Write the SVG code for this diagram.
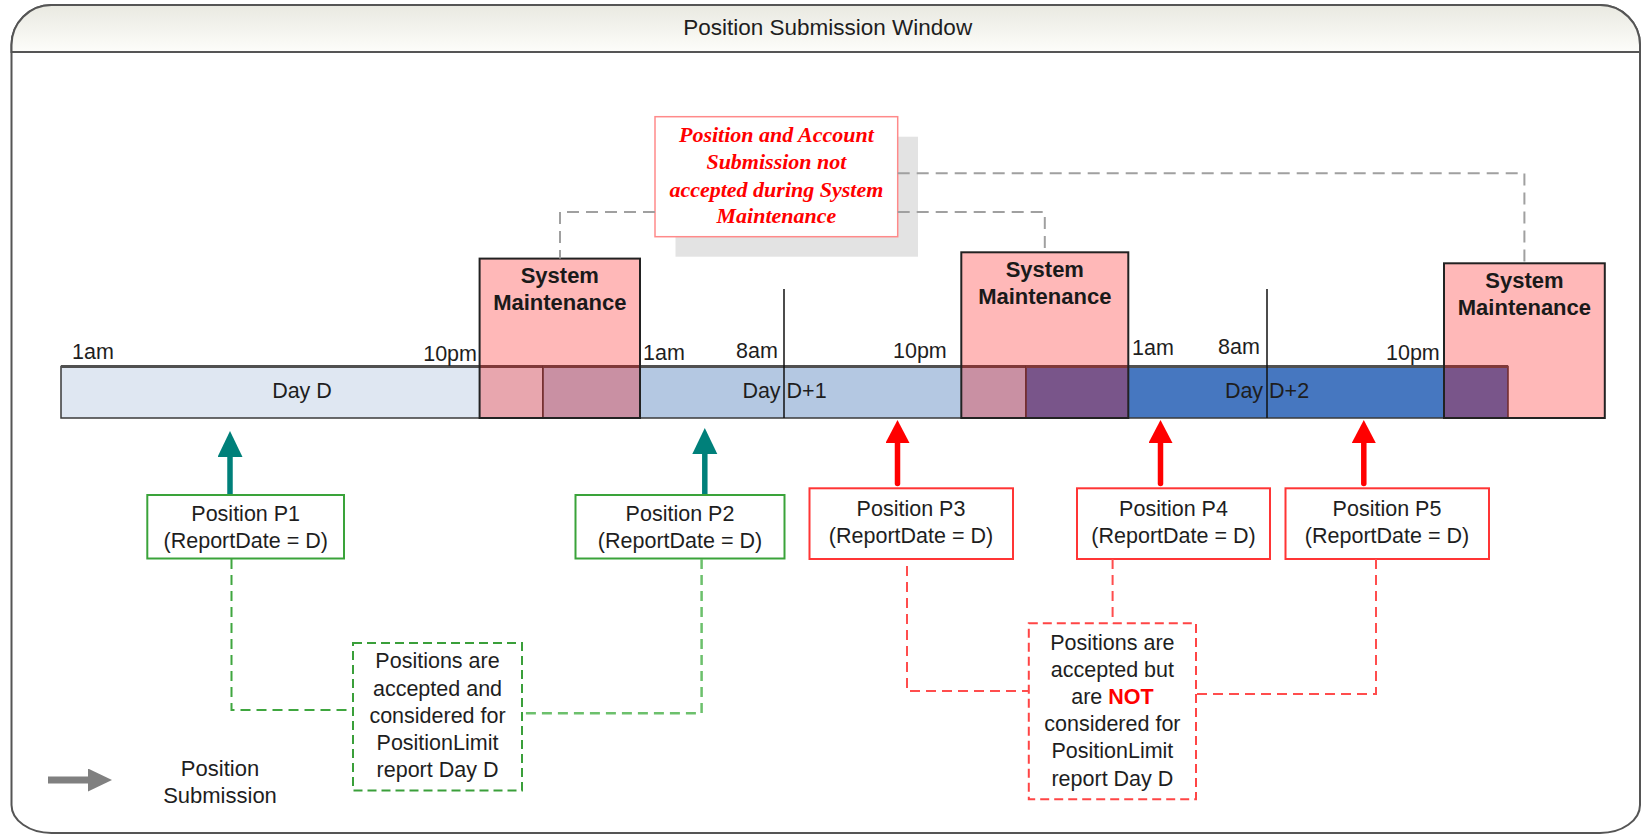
<svg xmlns="http://www.w3.org/2000/svg" width="1642" height="835" viewBox="0 0 1642 835">
<defs>
<style>
.t{font-family:"Liberation Sans",Arial,sans-serif;font-size:21.5px;fill:#1e1e1e}
.c{text-anchor:middle}
.e{text-anchor:end}
.smt{font-family:"Liberation Sans",Arial,sans-serif;font-size:22px;font-weight:bold;fill:#1a1a1a;text-anchor:middle}
.call{font-family:"Liberation Serif","Times New Roman",serif;font-size:22px;font-weight:bold;font-style:italic;fill:#ff0000;text-anchor:middle}
.bar{stroke:#3a3a3a;stroke-width:1.5}
.bartop{stroke:#505050;stroke-width:3}
.sm{fill:#ff0000;fill-opacity:0.28;stroke:#222;stroke-width:2}
.tick{stroke:#111;stroke-width:1.5}
.gbox{fill:#fff;stroke:#3aa33a;stroke-width:2}
.rbox{fill:#fff;stroke:#ff3535;stroke-width:2}
.gnote{fill:#fff;stroke:#3a9f3a;stroke-width:2;stroke-dasharray:9 5}
.rnote{fill:#fff;stroke:#ff4545;stroke-width:2;stroke-dasharray:9 5}
.gdash{fill:none;stroke:#3fa63f;stroke-width:2;stroke-dasharray:10 6}
.gdash2{fill:none;stroke:#6cc06c;stroke-width:2.5;stroke-dasharray:10 6}
.rdash{fill:none;stroke:#ff4d4d;stroke-width:2;stroke-dasharray:10 6}
.gray{fill:none;stroke:#a0a0a0;stroke-width:2;stroke-dasharray:12 7}
.teal{stroke:#00807a;stroke-width:5.5;fill:none}
.red{stroke:#ff0000;stroke-width:5.5;fill:none;stroke-linecap:round}
</style>
<linearGradient id="hdr" x1="0" y1="0" x2="0" y2="1">
<stop offset="0" stop-color="#e9e9e1"/>
<stop offset="1" stop-color="#fdfdfa"/>
</linearGradient>
<marker id="ahTeal" markerUnits="userSpaceOnUse" markerWidth="27" markerHeight="26" refX="0" refY="12.5" orient="auto">
<path d="M0,0 L26,12.5 L0,25 Z" fill="#00807a"/>
</marker>
<marker id="ahRed" markerUnits="userSpaceOnUse" markerWidth="24" markerHeight="25" refX="0" refY="12" orient="auto">
<path d="M0,0 L23,12 L0,24 Z" fill="#ff0000"/>
</marker>
<marker id="ahGray" markerUnits="userSpaceOnUse" markerWidth="25" markerHeight="25" refX="0" refY="11.5" orient="auto">
<path d="M0,0 L24,11.5 L0,23 Z" fill="#808080"/>
</marker>
</defs>

<g id="frame">
<path d="M11.5,45 A40,40 0 0 1 51.5,5 L1600,5 A40,40 0 0 1 1640,45 L1640,805 A40,28 0 0 1 1600,833 L51.5,833 A40,28 0 0 1 11.5,805 Z" fill="#fff" stroke="#555" stroke-width="2"/>
<path d="M11.5,52 L11.5,45 A40,40 0 0 1 51.5,5 L1600,5 A40,40 0 0 1 1640,45 L1640,52 Z" fill="url(#hdr)" stroke="#555" stroke-width="2"/>
<text class="t c" x="827.7" y="35" style="font-size:22.5px">Position Submission Window</text>
</g>

<g id="day-d">
<rect class="bar" x="61" y="366.5" width="482" height="51.5" fill="#dfe7f2"/>
<line class="bartop" x1="61" y1="366.5" x2="543" y2="366.5"/>
</g>
<g id="day-d1">
<rect class="bar" x="543" y="366.5" width="483" height="51.5" fill="#b4c8e2"/>
<line class="bartop" x1="543" y1="366.5" x2="1026" y2="366.5"/>
</g>
<g id="day-d2">
<rect class="bar" x="1026" y="366.5" width="482" height="51.5" fill="#4677c0"/>
<line class="bartop" x1="1026" y1="366.5" x2="1508" y2="366.5"/>
</g>

<g id="ticks">
<line class="tick" x1="784" y1="289" x2="784" y2="418"/>
<line class="tick" x1="1267" y1="289" x2="1267" y2="418"/>
</g>

<g id="day-labels">
<text class="t c" x="302" y="398">Day D</text>
<text class="t c" x="784.5" y="398">Day D+1</text>
<text class="t c" x="1267" y="398">Day D+2</text>
</g>

<g id="time-labels">
<text class="t" x="72" y="359">1am</text>
<text class="t e" x="477" y="361">10pm</text>
<text class="t" x="643" y="360">1am</text>
<text class="t" x="736" y="358">8am</text>
<text class="t" x="893" y="358">10pm</text>
<text class="t" x="1132" y="355">1am</text>
<text class="t" x="1218" y="354">8am</text>
<text class="t" x="1386" y="360">10pm</text>
</g>

<g id="sm1">
<rect class="sm" x="479.6" y="258.6" width="160.4" height="159.4"/>
<text class="smt" x="559.8" y="283.3">System</text>
<text class="smt" x="559.8" y="310">Maintenance</text>
</g>
<g id="sm2">
<rect class="sm" x="961.3" y="252.3" width="167" height="165.7"/>
<text class="smt" x="1044.8" y="277">System</text>
<text class="smt" x="1044.8" y="303.7">Maintenance</text>
</g>
<g id="sm3">
<rect class="sm" x="1444" y="263.3" width="160.8" height="154.7"/>
<text class="smt" x="1524.4" y="288">System</text>
<text class="smt" x="1524.4" y="314.7">Maintenance</text>
</g>

<g id="callout">
<rect x="675.5" y="136.7" width="242.5" height="120" fill="#e3e3e3"/>
<rect x="655" y="116.7" width="242.7" height="120" fill="#fff" stroke="#ff8a8a" stroke-width="1.5"/>
<text class="call" x="776.4" y="141.7">Position and Account</text>
<text class="call" x="776.4" y="169.3">Submission not</text>
<text class="call" x="776.4" y="197.3">accepted during System</text>
<text class="call" x="776.4" y="223.3">Maintenance</text>
</g>

<g id="p1">
<rect class="gbox" x="147.3" y="495" width="196.7" height="63.5"/>
<text class="t c" x="245.7" y="521">Position P1</text>
<text class="t c" x="245.7" y="548">(ReportDate = D)</text>
</g>
<g id="p2">
<rect class="gbox" x="575.5" y="495" width="209" height="63.5"/>
<text class="t c" x="680" y="521">Position P2</text>
<text class="t c" x="680" y="548">(ReportDate = D)</text>
</g>
<g id="p3">
<rect class="rbox" x="809.5" y="488.3" width="203.5" height="70.7"/>
<text class="t c" x="911" y="516">Position P3</text>
<text class="t c" x="911" y="543">(ReportDate = D)</text>
</g>
<g id="p4">
<rect class="rbox" x="1077" y="488.3" width="193" height="70.7"/>
<text class="t c" x="1173.5" y="516">Position P4</text>
<text class="t c" x="1173.5" y="543">(ReportDate = D)</text>
</g>
<g id="p5">
<rect class="rbox" x="1285.5" y="488.3" width="203.5" height="70.7"/>
<text class="t c" x="1387" y="516">Position P5</text>
<text class="t c" x="1387" y="543">(ReportDate = D)</text>
</g>

<g id="note-accepted">
<rect class="gnote" x="353" y="643" width="169" height="147.5"/>
<text class="t c" x="437.5" y="668">Positions are</text>
<text class="t c" x="437.5" y="695.5">accepted and</text>
<text class="t c" x="437.5" y="722.7">considered for</text>
<text class="t c" x="437.5" y="750">PositionLimit</text>
<text class="t c" x="437.5" y="777">report Day D</text>
</g>

<g id="note-not-considered">
<rect class="rnote" x="1028.8" y="623.3" width="167.2" height="176"/>
<text class="t c" x="1112.4" y="649.5">Positions are</text>
<text class="t c" x="1112.4" y="676.5">accepted but</text>
<text class="t c" x="1112.4" y="704">are <tspan style="font-weight:bold;fill:#ff0000">NOT</tspan></text>
<text class="t c" x="1112.4" y="731">considered for</text>
<text class="t c" x="1112.4" y="758">PositionLimit</text>
<text class="t c" x="1112.4" y="785.5">report Day D</text>
</g>

<g id="legend">
<line x1="48" y1="780" x2="88" y2="780" stroke="#808080" stroke-width="7" marker-end="url(#ahGray)"/>
<text class="t c" x="220" y="776" style="font-size:22px">Position</text>
<text class="t c" x="220" y="803" style="font-size:22px">Submission</text>
</g>

<g id="connectors">
<path class="gray" d="M655,212 H560 V258.6"/>
<path class="gray" d="M897.7,173.3 H1524.4 V263.3"/>
<path class="gray" d="M897.7,212 H1044.8 V252.3"/>
<path class="gdash" d="M231.5,559 V710 H353"/>
<path class="gdash2" d="M701.6,559 V713.3 H522"/>
<path class="rdash" d="M907,566 V691 H1028.8"/>
<path class="rdash" d="M1112.6,559 V623.3"/>
<path class="rdash" d="M1376,559 V694 H1196"/>
<line class="teal" x1="230" y1="494" x2="230" y2="457" marker-end="url(#ahTeal)"/>
<line class="teal" x1="704.8" y1="494" x2="704.8" y2="454" marker-end="url(#ahTeal)"/>
<line class="red" x1="897.5" y1="483.5" x2="897.5" y2="443" marker-end="url(#ahRed)"/>
<line class="red" x1="1160.5" y1="483.5" x2="1160.5" y2="443" marker-end="url(#ahRed)"/>
<line class="red" x1="1363.8" y1="483.5" x2="1363.8" y2="443" marker-end="url(#ahRed)"/>
</g>
</svg>
